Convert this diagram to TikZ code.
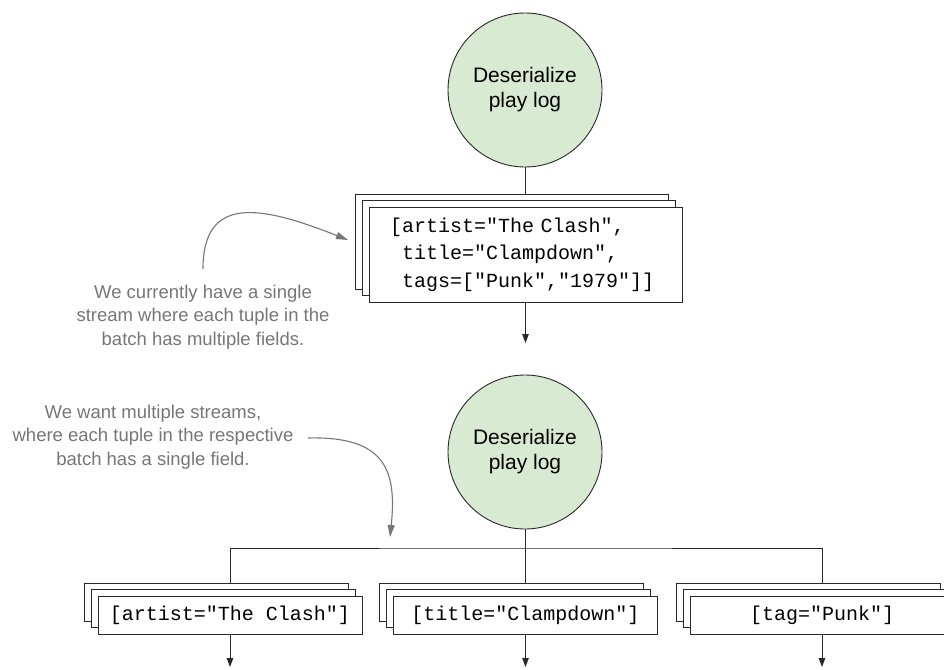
\documentclass[tikz,border=0pt]{standalone}
\usepackage{fontspec}
\setmainfont{Liberation Sans}
\setmonofont{Liberation Mono}
\usetikzlibrary{arrows.meta,shadows,backgrounds}
\definecolor{procgreen}{RGB}{217,234,211}
\definecolor{annot}{RGB}{118,118,118}
\definecolor{linec}{RGB}{40,40,40}
\begin{document}
\begin{tikzpicture}[x=1pt,y=-1pt,
  proc/.style={circle,draw=linec,line width=0.9pt,fill=procgreen,minimum size=154pt,inner sep=0pt,align=center,font=\fontsize{21}{25}\selectfont},
  batch/.style={draw=linec,fill=white,line width=0.9pt,
    copy shadow={shadow xshift=-14pt,shadow yshift=13pt},
    copy shadow={shadow xshift=-7pt,shadow yshift=6.5pt},
    font=\ttfamily\fontsize{20}{27.5}\selectfont},
  note/.style={text=annot,align=center,font=\fontsize{18.5}{23.3}\selectfont},
  conn/.style={draw=linec,line width=0.9pt},
  arr/.style={conn,-{Triangle[length=9pt,width=6.5pt]}},
  notearr/.style={draw=annot,line width=1.1pt,-{Triangle[length=12pt,width=7pt]}}]
\useasboundingbox (0,0) rectangle (944,669);

% top part
\node[proc] (c1) at (525,90) {Deserialize\\play log};
\node[batch,minimum width=313pt,minimum height=95pt,text width=271pt,inner xsep=21pt,inner ysep=0pt,align=left] (s1) at (525.5,254.5)
  {[artist="The Clash",\\\hphantom{[}title="Clampdown",\\\hphantom{[}tags=["Punk","1979"]]};
\coordinate (a1) at (525.5,343);
\draw[arr] (s1.south) -- (a1);

% annotation 1
\node[note] (n1) at (203,317) {We currently have a single\\stream where each tuple in the\\batch has multiple fields.};
\coordinate (n1s) at (203,269);
\coordinate (n1e) at (348,240);
\draw[notearr] (n1s) .. controls (203,195) and (260,205) .. (n1e);

% lower part
\node[proc] (c2) at (525,452) {Deserialize\\play log};
\node[batch,minimum width=264pt,minimum height=38pt,inner sep=0pt] (b1) at (230,615) {[artist="The Clash"]};
\node[batch,minimum width=264pt,minimum height=38pt,inner sep=0pt] (b2) at (525.5,615) {[title="Clampdown"]};
\node[batch,minimum width=264pt,minimum height=38pt,inner sep=0pt] (b3) at (822,615) {[tag="Punk"]};
\coordinate (j) at (525,548);
\coordinate (o1) at (230,667);
\coordinate (o2) at (525.5,667);
\coordinate (o3) at (822,667);
\draw[arr] (b1.south) -- (o1);
\draw[arr] (b2.south) -- (o2);
\draw[arr] (b3.south) -- (o3);

% annotation 2
\node[note] (n2) at (153,437) {We want multiple streams,\\where each tuple in the respective\\batch has a single field.};
\coordinate (n2s) at (308,438);
\coordinate (n2e) at (390,537);
\draw[notearr] (n2s) .. controls (385,436) and (397,470) .. (n2e);

\begin{pgfonlayer}{background}
\draw[conn] (c1.south) -- (c1.south |- s1.north);
\draw[conn] (c2.south) -- (c2.south |- b2.north);
\draw[conn] (b1.north) |- (j) -| (b3.north);
\end{pgfonlayer}
\end{tikzpicture}
\end{document}
